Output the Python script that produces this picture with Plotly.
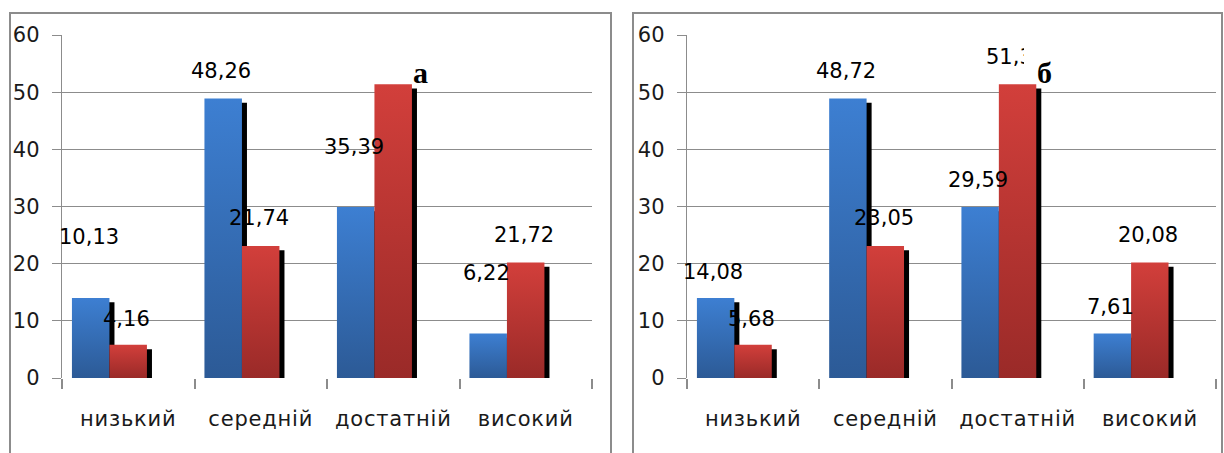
import plotly.graph_objects as go

# ---------------- data ----------------
categories = ["низький", "середній", "достатній", "високий"]
y_tick_vals = [0, 10, 20, 30, 40, 50, 60]

# bar heights as drawn (identical in both panels)
blue_bars = [14.0, 48.9, 29.9, 7.8]
red_bars = [5.8, 23.1, 51.4, 20.2]

# value labels as printed
labels_a_blue = ["10,13", "48,26", "35,39", "6,22"]
labels_a_red = ["4,16", "21,74", "52,38", "21,72"]
labels_b_blue = ["14,08", "48,72", "29,59", "7,61"]
labels_b_red = ["5,68", "23,05", "51,38", "20,08"]
panel_letters = ["а", "б"]

# ---------------- layout / style ----------------
label_y_a_blue = [24.7, 53.7, 40.4, 18.4]
label_y_a_red = [10.3, 28.0, 60.2, 25.0]
label_y_b_blue = [18.5, 53.7, 34.6, 12.4]
label_y_b_red = [10.3, 28.0, 56.1, 25.0]

W, H = 1224, 453
BAR_W = 0.283
BLUE_OFF = -0.425
RED_OFF = -0.142
SH_DX = 0.038
SH_DY = 0.75
BLUE_LBL_DX = -0.30
RED_LBL_DX = -0.012
GRID = "#8c8c8c"
FONT = "DejaVu Sans"
BLUE_SCALE = [[0, "#2c5a96"], [1, "#3d7fd2"]]
RED_SCALE = [[0, "#9a2a28"], [1, "#d23f3b"]]

panels = [
    dict(xa="x", ya="y", xd=[62 / W, 592 / W],
         lb=labels_a_blue, lr=labels_a_red, yb=label_y_a_blue, yr=label_y_a_red,
         letter=panel_letters[0], box=[10 / W, 611 / W], cover=False),
    dict(xa="x2", ya="y2", xd=[687 / W, 1216 / W],
         lb=labels_b_blue, lr=labels_b_red, yb=label_y_b_blue, yr=label_y_b_red,
         letter=panel_letters[1], box=[633 / W, 1222 / W], cover=True),
]

y_dom = [1 - 378 / H, 1 - 35 / H]

fig = go.Figure()
annotations = []
shapes = []

for p in panels:
    idx = list(range(len(categories)))
    # shadows
    for vals, off in ((blue_bars, BLUE_OFF), (red_bars, RED_OFF)):
        fig.add_trace(go.Bar(
            x=idx, y=[v - SH_DY for v in vals], width=BAR_W, offset=off + SH_DX,
            marker=dict(color="black", line=dict(width=0)),
            xaxis=p["xa"], yaxis=p["ya"], showlegend=False, hoverinfo="skip"))
    # bars with vertical gradients
    for vals, off, scale in ((blue_bars, BLUE_OFF, BLUE_SCALE), (red_bars, RED_OFF, RED_SCALE)):
        for i, v in enumerate(vals):
            l = i + off
            r = l + BAR_W
            fig.add_trace(go.Scatter(
                x=[l, l, r, r, l], y=[0, v, v, 0, 0], mode="lines",
                line=dict(width=0), fill="toself",
                fillgradient=dict(type="vertical", colorscale=scale, start=0, stop=v),
                xaxis=p["xa"], yaxis=p["ya"], showlegend=False, hoverinfo="skip"))
    # value labels
    for i in idx:
        annotations.append(dict(x=i + BLUE_LBL_DX, y=p["yb"][i], xref=p["xa"], yref=p["ya"],
                                text=p["lb"][i], showarrow=False,
                                font=dict(family=FONT, size=21, color="black")))
        annotations.append(dict(x=i + RED_LBL_DX, y=p["yr"][i], xref=p["xa"], yref=p["ya"],
                                text=p["lr"][i], showarrow=False,
                                font=dict(family=FONT, size=21, color="black")))
    if p["cover"]:
        annotations.append(dict(x=2.045, y=58.5, xref=p["xa"], yref=p["ya"], text=" ",
                                showarrow=False, xanchor="left", yanchor="top",
                                width=36, height=38, bgcolor="white", borderpad=0,
                                borderwidth=0, font=dict(size=8)))
    annotations.append(dict(x=2.205, y=53.4, xref=p["xa"], yref=p["ya"], text="<b>%s</b>" % p["letter"],
                            showarrow=False,
                            font=dict(family="Liberation Serif", size=30, color="black")))
    # panel border
    shapes.append(dict(type="rect", xref="paper", yref="paper",
                       x0=p["box"][0], x1=p["box"][1], y0=-0.05, y1=1 - 13 / H,
                       line=dict(color=GRID, width=2), fillcolor="rgba(0,0,0,0)", layer="below"))

cat_ticktext = ['<span style="letter-spacing:0.8px">%s</span>' % c for c in categories]

axis_common_x = dict(
    range=[-0.5, 3.5], tickvals=list(range(len(categories))), ticktext=cat_ticktext,
    ticks="", showgrid=False, zeroline=False, showline=False,
    tickfont=dict(family=FONT, size=21, color="#1a1a1a"), ticklabelstandoff=26,
    minor=dict(tickvals=[-0.5, 0.5, 1.5, 2.5, 3.5], ticks="outside", ticklen=10,
               tickcolor=GRID, tickwidth=1.5, showgrid=False),
    fixedrange=True,
)
axis_common_y = dict(
    range=[0, 60], domain=y_dom, tickvals=y_tick_vals, showgrid=True, gridcolor=GRID,
    gridwidth=1.4, ticks="outside", ticklen=9, tickcolor=GRID, tickwidth=1.4,
    showline=True, linecolor=GRID, linewidth=1.4, zeroline=False,
    tickfont=dict(family=FONT, size=21, color="#1a1a1a"), ticklabelstandoff=8,
    fixedrange=True,
)

fig.update_layout(
    width=W, height=H, margin=dict(l=0, r=0, t=0, b=0, autoexpand=False),
    paper_bgcolor="white", plot_bgcolor="white", barmode="overlay",
    showlegend=False,
    xaxis=dict(domain=panels[0]["xd"], anchor="y", automargin=False, **axis_common_x),
    xaxis2=dict(domain=panels[1]["xd"], anchor="y2", automargin=False, **axis_common_x),
    yaxis=dict(anchor="x", automargin=False, **axis_common_y),
    yaxis2=dict(anchor="x2", automargin=False, **axis_common_y),
    annotations=annotations, shapes=shapes,
)

fig.write_html(
    "out.html",
    config={"displayModeBar": False, "responsive": False},
    post_script="document.body.style.margin='0';document.body.style.overflow='hidden';",
)
